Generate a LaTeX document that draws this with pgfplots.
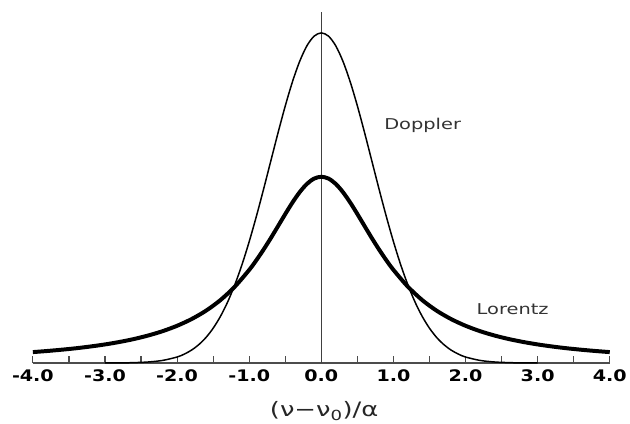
\documentclass[border=0pt]{standalone}
\usepackage{fontspec}
\setmainfont[FakeStretch=1.3]{DejaVu Sans}
\newfontfamily\tickfont[FakeStretch=1.2]{DejaVu Sans}
\usepackage{pgfplots}
\pgfplotsset{compat=1.18}

% line profiles, x = (nu - nu0)/alpha
\pgfplotstableread{
x       y
-3.0    0.0001
-2.8    0.0002
-2.6    0.0007
-2.4    0.0018
-2.2    0.0045
-2.0    0.0103
-1.9    0.0153
-1.8    0.0221
-1.7    0.0314
-1.6    0.0436
-1.5    0.0595
-1.4    0.0795
-1.3    0.1041
-1.2    0.1337
-1.1    0.1682
-1.0    0.2076
-0.9    0.2510
-0.8    0.2975
-0.7    0.3456
-0.6    0.3936
-0.5    0.4394
-0.4    0.4808
-0.3    0.5156
-0.2    0.5421
-0.1    0.5586
0.0     0.5642
0.1     0.5586
0.2     0.5421
0.3     0.5156
0.4     0.4808
0.5     0.4394
0.6     0.3936
0.7     0.3456
0.8     0.2975
0.9     0.2510
1.0     0.2076
1.1     0.1682
1.2     0.1337
1.3     0.1041
1.4     0.0795
1.5     0.0595
1.6     0.0436
1.7     0.0314
1.8     0.0221
1.9     0.0153
2.0     0.0103
2.2     0.0045
2.4     0.0018
2.6     0.0007
2.8     0.0002
3.0     0.0001
}\doppler

\pgfplotstableread{
x       y
-4.0    0.0187
-3.8    0.0206
-3.6    0.0228
-3.4    0.0253
-3.2    0.0283
-3.0    0.0318
-2.8    0.0360
-2.6    0.0410
-2.4    0.0471
-2.2    0.0545
-2.0    0.0637
-1.8    0.0751
-1.6    0.0894
-1.4    0.1075
-1.2    0.1305
-1.0    0.1592
-0.9    0.1759
-0.8    0.1941
-0.7    0.2136
-0.6    0.2340
-0.5    0.2546
-0.4    0.2744
-0.3    0.2920
-0.2    0.3061
-0.1    0.3152
0.0     0.3183
0.1     0.3152
0.2     0.3061
0.3     0.2920
0.4     0.2744
0.5     0.2546
0.6     0.2340
0.7     0.2136
0.8     0.1941
0.9     0.1759
1.0     0.1592
1.2     0.1305
1.4     0.1075
1.6     0.0894
1.8     0.0751
2.0     0.0637
2.2     0.0545
2.4     0.0471
2.6     0.0410
2.8     0.0360
3.0     0.0318
3.2     0.0283
3.4     0.0253
3.6     0.0228
3.8     0.0206
4.0     0.0187
}\lorentz

\begin{document}
\begin{tikzpicture}
\begin{axis}[
    scale only axis,
    width=580pt, height=353pt,
    xmin=-4, xmax=4, ymin=0, ymax=0.6,
    axis x line=bottom, axis y line=none,
    x axis line style={-, line width=1.3pt, color=black!70},
    xtick={-4,-3,-2,-1,0,1,2,3,4},
    xticklabels={-4.0,-3.0,-2.0,-1.0,0.0,1.0,2.0,3.0,4.0},
    minor xtick={-3.5,-2.5,-1.5,-0.5,0.5,1.5,2.5,3.5},
    tick align=inside,
    major tick length=7pt, minor tick length=7pt,
    every tick/.style={line width=1.2pt, black!70},
    xticklabel style={font=\tickfont\bfseries\fontsize{16}{19}\selectfont,
        anchor=base, yshift=-19pt, text=black},
    xlabel={(ν−ν\textsubscript{0})/α},
    xlabel style={at={(axis description cs:0.505,-0.137)}, anchor=center,
        font=\fontsize{20}{23}\selectfont, text=black!85},
    clip=false,
]
% centre line
\addplot[black!75, line width=1pt] coordinates {(0,0) (0,0.6)};
\addplot[black, line width=1.5pt, smooth] table[x=x, y=y] {\doppler};
\addplot[black, line width=4pt, smooth] table[x=x, y=y] {\lorentz};

\node[anchor=base west, inner sep=0, font=\fontsize{15}{18}\selectfont, text=black!80]
    at (axis cs:0.87,0.3995) {Doppler};
\node[anchor=base west, inner sep=0, font=\fontsize{15}{18}\selectfont, text=black!80]
    at (axis cs:2.152,0.0833) {Lorentz};

% page frame
\path (axis cs:-4.456,-0.0985) rectangle (axis cs:4.235,0.6204);
\end{axis}
\end{tikzpicture}
\end{document}
